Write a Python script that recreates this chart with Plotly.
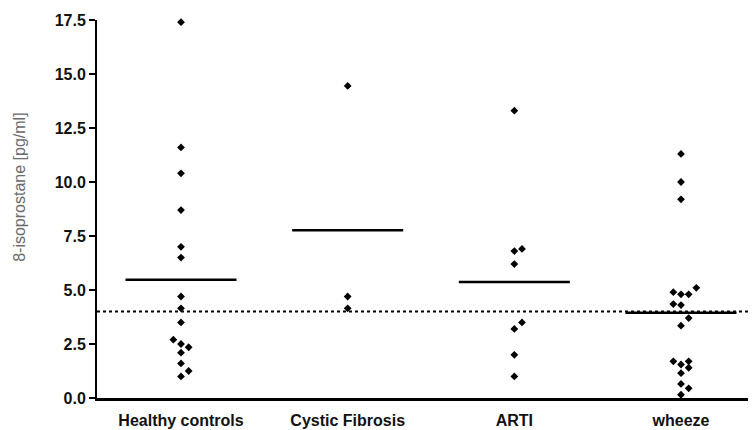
import plotly.graph_objects as go

categories = ["Healthy controls", "Cystic Fibrosis", "ARTI", "wheeze"]

healthy = [17.4, 11.6, 10.4, 8.7, 7.0, 6.5, 4.7, 4.15, 3.5, 2.7, 2.5, 2.35, 2.1, 1.6, 1.25, 1.0]
healthy_slot = [0, 0, 0, 0, 0, 0, 0, 0, 0, -1, 0, 1, 0, 0, 1, 0]

cf = [14.45, 4.7, 4.15]
cf_slot = [0, 0, 0]

arti = [13.3, 6.9, 6.8, 6.2, 3.5, 3.2, 2.0, 1.0]
arti_slot = [0, 1, 0, 0, 1, 0, 0, 0]

wheeze = [11.3, 10.0, 9.2, 5.1, 4.9, 4.8, 4.8, 4.35, 4.3, 3.7, 3.35, 1.7, 1.55, 1.7, 1.4, 1.15, 0.65, 0.45, 0.15]
wheeze_slot = [0, 0, 0, 2, -1, 0, 1, -1, 0, 1, 0, -1, 0, 1, 1, 0, 0, 1, 0]

group_means = [5.48, 7.77, 5.37, 3.95]
cutoff = 4.0

y_ticks = [0.0, 2.5, 5.0, 7.5, 10.0, 12.5, 15.0, 17.5]

groups = [(healthy, healthy_slot), (cf, cf_slot), (arti, arti_slot), (wheeze, wheeze_slot)]

SLOT = 0.046
HALF = 0.333

fig = go.Figure()

for i, (vals, slots) in enumerate(groups):
    fig.add_trace(go.Scatter(
        x=[i + s * SLOT for s in slots], y=vals, mode="markers",
        marker=dict(symbol="diamond", size=6, color="black"),
        cliponaxis=False, showlegend=False, hoverinfo="y"))
    fig.add_trace(go.Scatter(
        x=[i - HALF, i + HALF], y=[group_means[i]] * 2, mode="lines",
        line=dict(color="black", width=2.5), showlegend=False, hoverinfo="skip"))

fig.add_shape(type="line", xref="paper", yref="y", x0=0, x1=1, y0=cutoff, y1=cutoff,
              line=dict(color="black", width=2, dash="dot"))

fig.add_annotation(text="8-isoprostane [pg/ml]", xref="paper", yref="paper",
                   x=0, y=0.556, xshift=-77, textangle=-90, showarrow=False,
                   xanchor="center", yanchor="middle",
                   font=dict(family="Liberation Sans, Arial, sans-serif", size=16, color="#6a6a6a"))

# page body has an 8px default margin, so the figure is sized and placed to compensate
fig.update_layout(
    width=748, height=422,
    margin=dict(l=89, r=0, t=12, b=32, autoexpand=False),
    paper_bgcolor="white", plot_bgcolor="white",
    font=dict(family="Liberation Sans, Arial, sans-serif", color="black"),
    xaxis=dict(range=[-0.504, 3.45], tickvals=list(range(len(categories))), ticktext=categories,
               showgrid=False, zeroline=False, showline=True, linecolor="black", linewidth=2.5,
               ticks="", tickfont=dict(size=16, weight="bold", color="#111"), ticklabelstandoff=6),
    yaxis=dict(range=[0, 17.5], tickvals=y_ticks, ticktext=[f"{v:.1f}" for v in y_ticks],
               showgrid=False, zeroline=False, showline=True, linecolor="black", linewidth=2,
               ticks="outside", ticklen=6, tickwidth=2, tickcolor="black",
               tickfont=dict(size=16, weight="bold", color="#111")),
)

fig.write_html("out.html")
